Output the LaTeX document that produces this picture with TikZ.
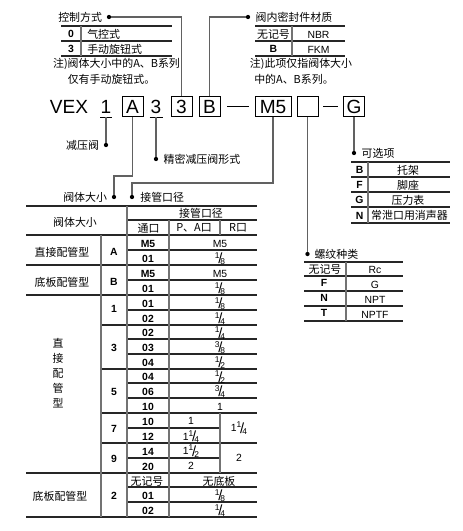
\documentclass[tikz,border=0pt]{standalone}
\usepackage{fontspec}
\setmainfont{Liberation Sans}
\newfontfamily\cjk{Noto Sans CJK SC}
\usetikzlibrary{positioning}

\newcommand{\frc}[2]{\raisebox{0.7ex}{\fontsize{6.3}{7}\selectfont#1}\kern-0.12em\raisebox{-0.3ex}{\fontsize{11}{11}\selectfont/}\kern-0.18em\raisebox{-0.45ex}{\fontsize{6.3}{7}\selectfont#2}}

\tikzset{
  codetxt/.style={inner sep=0pt, minimum height=15pt, font=\fontsize{14.3}{16}\selectfont},
  codebox/.style={codetxt, draw, line width=0.75pt, minimum width=15.75pt},
  lead/.style={draw=black!62, line width=1.1pt},
  dot/.style={circle, fill=black, inner sep=0pt, minimum size=3.2pt},
  lbl/.style={inner sep=0.75pt, font=\cjk\fontsize{8.2}{10}\selectfont},
  val/.style={inner sep=0.75pt, font=\fontsize{7.8}{9}\selectfont},
  bval/.style={inner sep=0.75pt, font=\fontsize{7.8}{9}\selectfont\bfseries},
  tline/.style={draw=black!85, line width=0.9pt},
  vline/.style={draw=black!55, line width=1.2pt}
}

\begin{document}
\begin{tikzpicture}[x=0.75pt,y=0.75pt,yscale=-1]
	\useasboundingbox (0,0) rectangle (462,531);
	% code line
	\node [codetxt] (vex) at (69,107) {VEX};
	\node [codetxt] (n1) at (106,107) {1};
	\node [codebox] (bA) at (132.5,107) {A};
	\node [codetxt] (n3) at (156,107) {3};
	\node [codebox] (b3) at (181.5,107) {3};
	\node [codebox] (bB) at (209.5,107) {B};
	\node [codebox,minimum width=27pt] (bM) at (273,107) {M5};
	\node [codebox] (bT) at (307.5,107) {};
	\node [codebox] (bG) at (354,107) {G};
	\coordinate (dsh1a) at (227,107);
	\coordinate (dsh1b) at (249,107);
	\coordinate (dsh2a) at (323,107);
	\coordinate (dsh2b) at (338,107);
	\draw [line width=0.75pt] (dsh1a) -- (dsh1b);
	\draw [line width=0.75pt] (dsh2a) -- (dsh2b);
	\draw [line width=0.75pt] ([shift={(-6,0)}]n1.south) -- ([shift={(6,0)}]n1.south);
	\draw [line width=0.75pt] ([shift={(-6.5,0)}]n3.south) -- ([shift={(6.5,0)}]n3.south);

	% leader dots and labels
	\node [dot] (dCtrl) at (109,17) {};
	\node [dot] (dSeal) at (248,17) {};
	\node [dot] (dRed) at (106,145) {};
	\node [dot] (dForm) at (156,159) {};
	\node [dot] (dSize) at (114,197) {};
	\node [dot] (dPort) at (132,197) {};
	\node [dot] (dOpt) at (354,153) {};
	\node [dot] (dThr) at (307.5,254) {};
	\coordinate (kA) at (114,176);
	\coordinate (kM) at (132,183);
	\node [lbl, left=2.5pt of dCtrl] (tCtrl) {控制方式};
	\node [lbl, right=3pt of dSeal] (tSeal) {阀内密封件材质};
	\node [lbl, left=2.5pt of dRed] (tRed) {减压阀};
	\node [lbl, right=3pt of dForm] (tForm) {精密减压阀形式};
	\node [lbl, left=2.5pt of dSize] (tSize) {阀体大小};
	\node [lbl, right=3.5pt of dPort] (tPort) {接管口径};
	\node [lbl, right=3pt of dOpt] (tOpt) {可选项};
	\node [lbl, right=2.5pt of dThr] (tThr) {螺纹种类};
	\draw [lead] (b3.north) |- (dCtrl);
	\draw [lead] (bB.north) |- (dSeal);
	\draw [lead] (n1.south) -- (dRed);
	\draw [lead] (n3.south) -- (dForm);
	\draw [lead] (bA.south) |- (kA) -- (dSize);
	\draw [lead] (bM.south) |- (kM) -- (dPort);
	\draw [lead] (bT.south) -- (dThr);
	\draw [lead] (bG.south) -- (dOpt);

	% control method
	\draw [tline] (61,26) -- (172,26);
	\draw [tline] (61,41) -- (172,41);
	\draw [tline] (61,56) -- (172,56);
	\draw [vline] (81,26) -- (81,56);
	\node [bval] (k0) at (71,34) {0};
	\node [bval] (k3) at (71,49) {3};
	\node [lbl, anchor=west] (kAir) at (86,34) {气控式};
	\node [lbl, anchor=west] (kMan) at (86,49) {手动旋钮式};
	\node [lbl] (kNote1) at (116.5,64) {注)阀体大小中的A、B系列};
	\node [lbl] (kNote2) at (111.5,79) {仅有手动旋钮式。};

	% seal material
	\draw [tline] (255,26) -- (345,26);
	\draw [tline] (255,41) -- (345,41);
	\draw [tline] (255,56) -- (345,56);
	\draw [vline] (292,26) -- (292,56);
	\node [lbl] (s0) at (273.5,34) {无记号};
	\node [val] (sNBR) at (318.5,34.5) {NBR};
	\node [bval] (sB) at (273.5,49) {B};
	\node [val] (sFKM) at (318.5,49.5) {FKM};
	\node [lbl] (sNote1) at (301,64) {注)此项仅指阀体大小};
	\node [lbl] (sNote2) at (294,79) {中的A、B系列。};

	% options
	\draw [tline] (351,162) -- (450,162);
	\draw [tline] (351,177) -- (450,177);
	\draw [tline] (351,192) -- (450,192);
	\draw [tline] (351,207) -- (450,207);
	\draw [tline] (351,223) -- (450,223);
	\draw [vline] (368,162) -- (368,223);
	\node [bval] (oB) at (359.5,170) {B};
	\node [bval] (oF) at (359.5,185) {F};
	\node [bval] (oG) at (359.5,200) {G};
	\node [bval] (oN) at (359.5,215.5) {N};
	\node [lbl] (oBr) at (408,170) {托架};
	\node [lbl] (oFt) at (408,185) {脚座};
	\node [lbl] (oGa) at (408,200) {压力表};
	\node [lbl] (oSi) at (409.5,215.5) {常泄口用消声器};

	% thread type
	\draw [tline] (304,262) -- (403,262);
	\draw [tline] (304,276) -- (403,276);
	\draw [tline] (304,291) -- (403,291);
	\draw [tline] (304,306) -- (403,306);
	\draw [tline] (304,321) -- (403,321);
	\draw [vline] (346,262) -- (346,321);
	\node [lbl] (r0) at (325,269) {无记号};
	\node [val] (rRc) at (375,270) {Rc};
	\node [bval] (rF) at (324,283) {F};
	\node [val] (rG) at (375,284.5) {G};
	\node [bval] (rN) at (324,298) {N};
	\node [val] (rNPT) at (375,299.5) {NPT};
	\node [bval] (rT) at (324,313) {T};
	\node [val] (rNPTF) at (375,314.5) {NPTF};

	% body size / port size
	\draw [tline] (26,206) -- (257,206);
	\draw [tline] (127,220) -- (257,220);
	\draw [tline] (26,235) -- (257,235);
	\draw [tline] (127,250) -- (257,250);
	\draw [tline] (26,265) -- (257,265);
	\draw [tline] (127,280) -- (257,280);
	\draw [tline] (26,295) -- (257,295);
	\draw [tline] (127,310) -- (257,310);
	\draw [tline] (101,325) -- (257,325);
	\draw [tline] (127,339) -- (257,339);
	\draw [tline] (127,354) -- (257,354);
	\draw [tline] (101,369) -- (257,369);
	\draw [tline] (127,383) -- (257,383);
	\draw [tline] (127,398) -- (257,398);
	\draw [tline] (101,413) -- (257,413);
	\draw [tline] (127,428) -- (220,428);
	\draw [tline] (101,443) -- (257,443);
	\draw [tline] (127,458) -- (220,458);
	\draw [tline] (26,473) -- (257,473);
	\draw [tline] (127,487) -- (257,487);
	\draw [tline] (127,502) -- (257,502);
	\draw [tline] (26,517) -- (257,517);
	\draw [vline] (101,235) -- (101,517);
	\draw [vline] (127,206) -- (127,517);
	\draw [vline] (169,220) -- (169,517);
	\draw [vline] (220,220) -- (220,235);
	\draw [vline] (220,413) -- (220,473);

	\node [lbl] (hSize) at (75,222) {阀体大小};
	\node [lbl] (hPort) at (201,213.5) {接管口径};
	\node [lbl] (hVia) at (148.5,228) {通口};
	\node [lbl] (hPA) at (194,228) {P、A口};
	\node [lbl] (hR) at (238,228) {R口};

	\node [lbl] (gDa) at (62,252.5) {直接配管型};
	\node [lbl] (gBa) at (62,282.5) {底板配管型};
	\node [lbl, align=center, font=\cjk\fontsize{8.2}{11.25}\selectfont] (gDv) at (58,373) {直\\接\\配\\管\\型};
	\node [lbl] (gBb) at (60,496) {底板配管型};

	\node [bval] (zA) at (114,252) {A};
	\node [bval] (zB) at (114,281.5) {B};
	\node [bval] (z1) at (114,308.5) {1};
	\node [bval] (z3) at (114,348) {3};
	\node [bval] (z5) at (114,392) {5};
	\node [bval] (z7) at (114,429) {7};
	\node [bval] (z9) at (114,459) {9};
	\node [bval] (z2) at (114,495.5) {2};

	\node [bval] (p0) at (148,243.5) {M5};
	\node [bval] (p1) at (148,258.5) {01};
	\node [bval] (p2) at (148,273.5) {M5};
	\node [bval] (p3) at (148,288.5) {01};
	\node [bval] (p4) at (148,303.5) {01};
	\node [bval] (p5) at (148,318.5) {02};
	\node [bval] (p6) at (148,333) {02};
	\node [bval] (p7) at (148,347.5) {03};
	\node [bval] (p8) at (148,362.5) {04};
	\node [bval] (p9) at (148,377) {04};
	\node [bval] (p10) at (148,391.5) {06};
	\node [bval] (p11) at (148,406.5) {10};
	\node [bval] (p12) at (148,421.5) {10};
	\node [bval] (p13) at (148,436.5) {12};
	\node [bval] (p14) at (148,451.5) {14};
	\node [bval] (p15) at (148,466.5) {20};
	\node [lbl] (p16) at (147,481) {无记号};
	\node [bval] (p17) at (148,495.5) {01};
	\node [bval] (p18) at (148,510.5) {02};

	\node [val] (a0) at (220,243.5) {M5};
	\node [val] (a1) at (220,258.5) {\frc18};
	\node [val] (a2) at (220,273.5) {M5};
	\node [val] (a3) at (220,288.5) {\frc18};
	\node [val] (a4) at (220,303.5) {\frc18};
	\node [val] (a5) at (220,318.5) {\frc14};
	\node [val] (a6) at (220,333) {\frc14};
	\node [val] (a7) at (220,347.5) {\frc38};
	\node [val] (a8) at (220,362.5) {\frc12};
	\node [val] (a9) at (220,377) {\frc12};
	\node [val] (a10) at (220,391.5) {\frc34};
	\node [val] (a11) at (220,406.5) {1};
	\node [val] (a12) at (191,421) {1};
	\node [val] (a13) at (191,436.5) {1\frc14};
	\node [val] (a14) at (191,451) {1\frc12};
	\node [val] (a15) at (191,466) {2};
	\node [val] (b12) at (239,428) {1\frc14};
	\node [val] (b14) at (239,458) {2};
	\node [lbl] (a16) at (219,481) {无底板};
	\node [val] (a17) at (220,495.5) {\frc18};
	\node [val] (a18) at (220,510.5) {\frc14};
\end{tikzpicture}
\end{document}
